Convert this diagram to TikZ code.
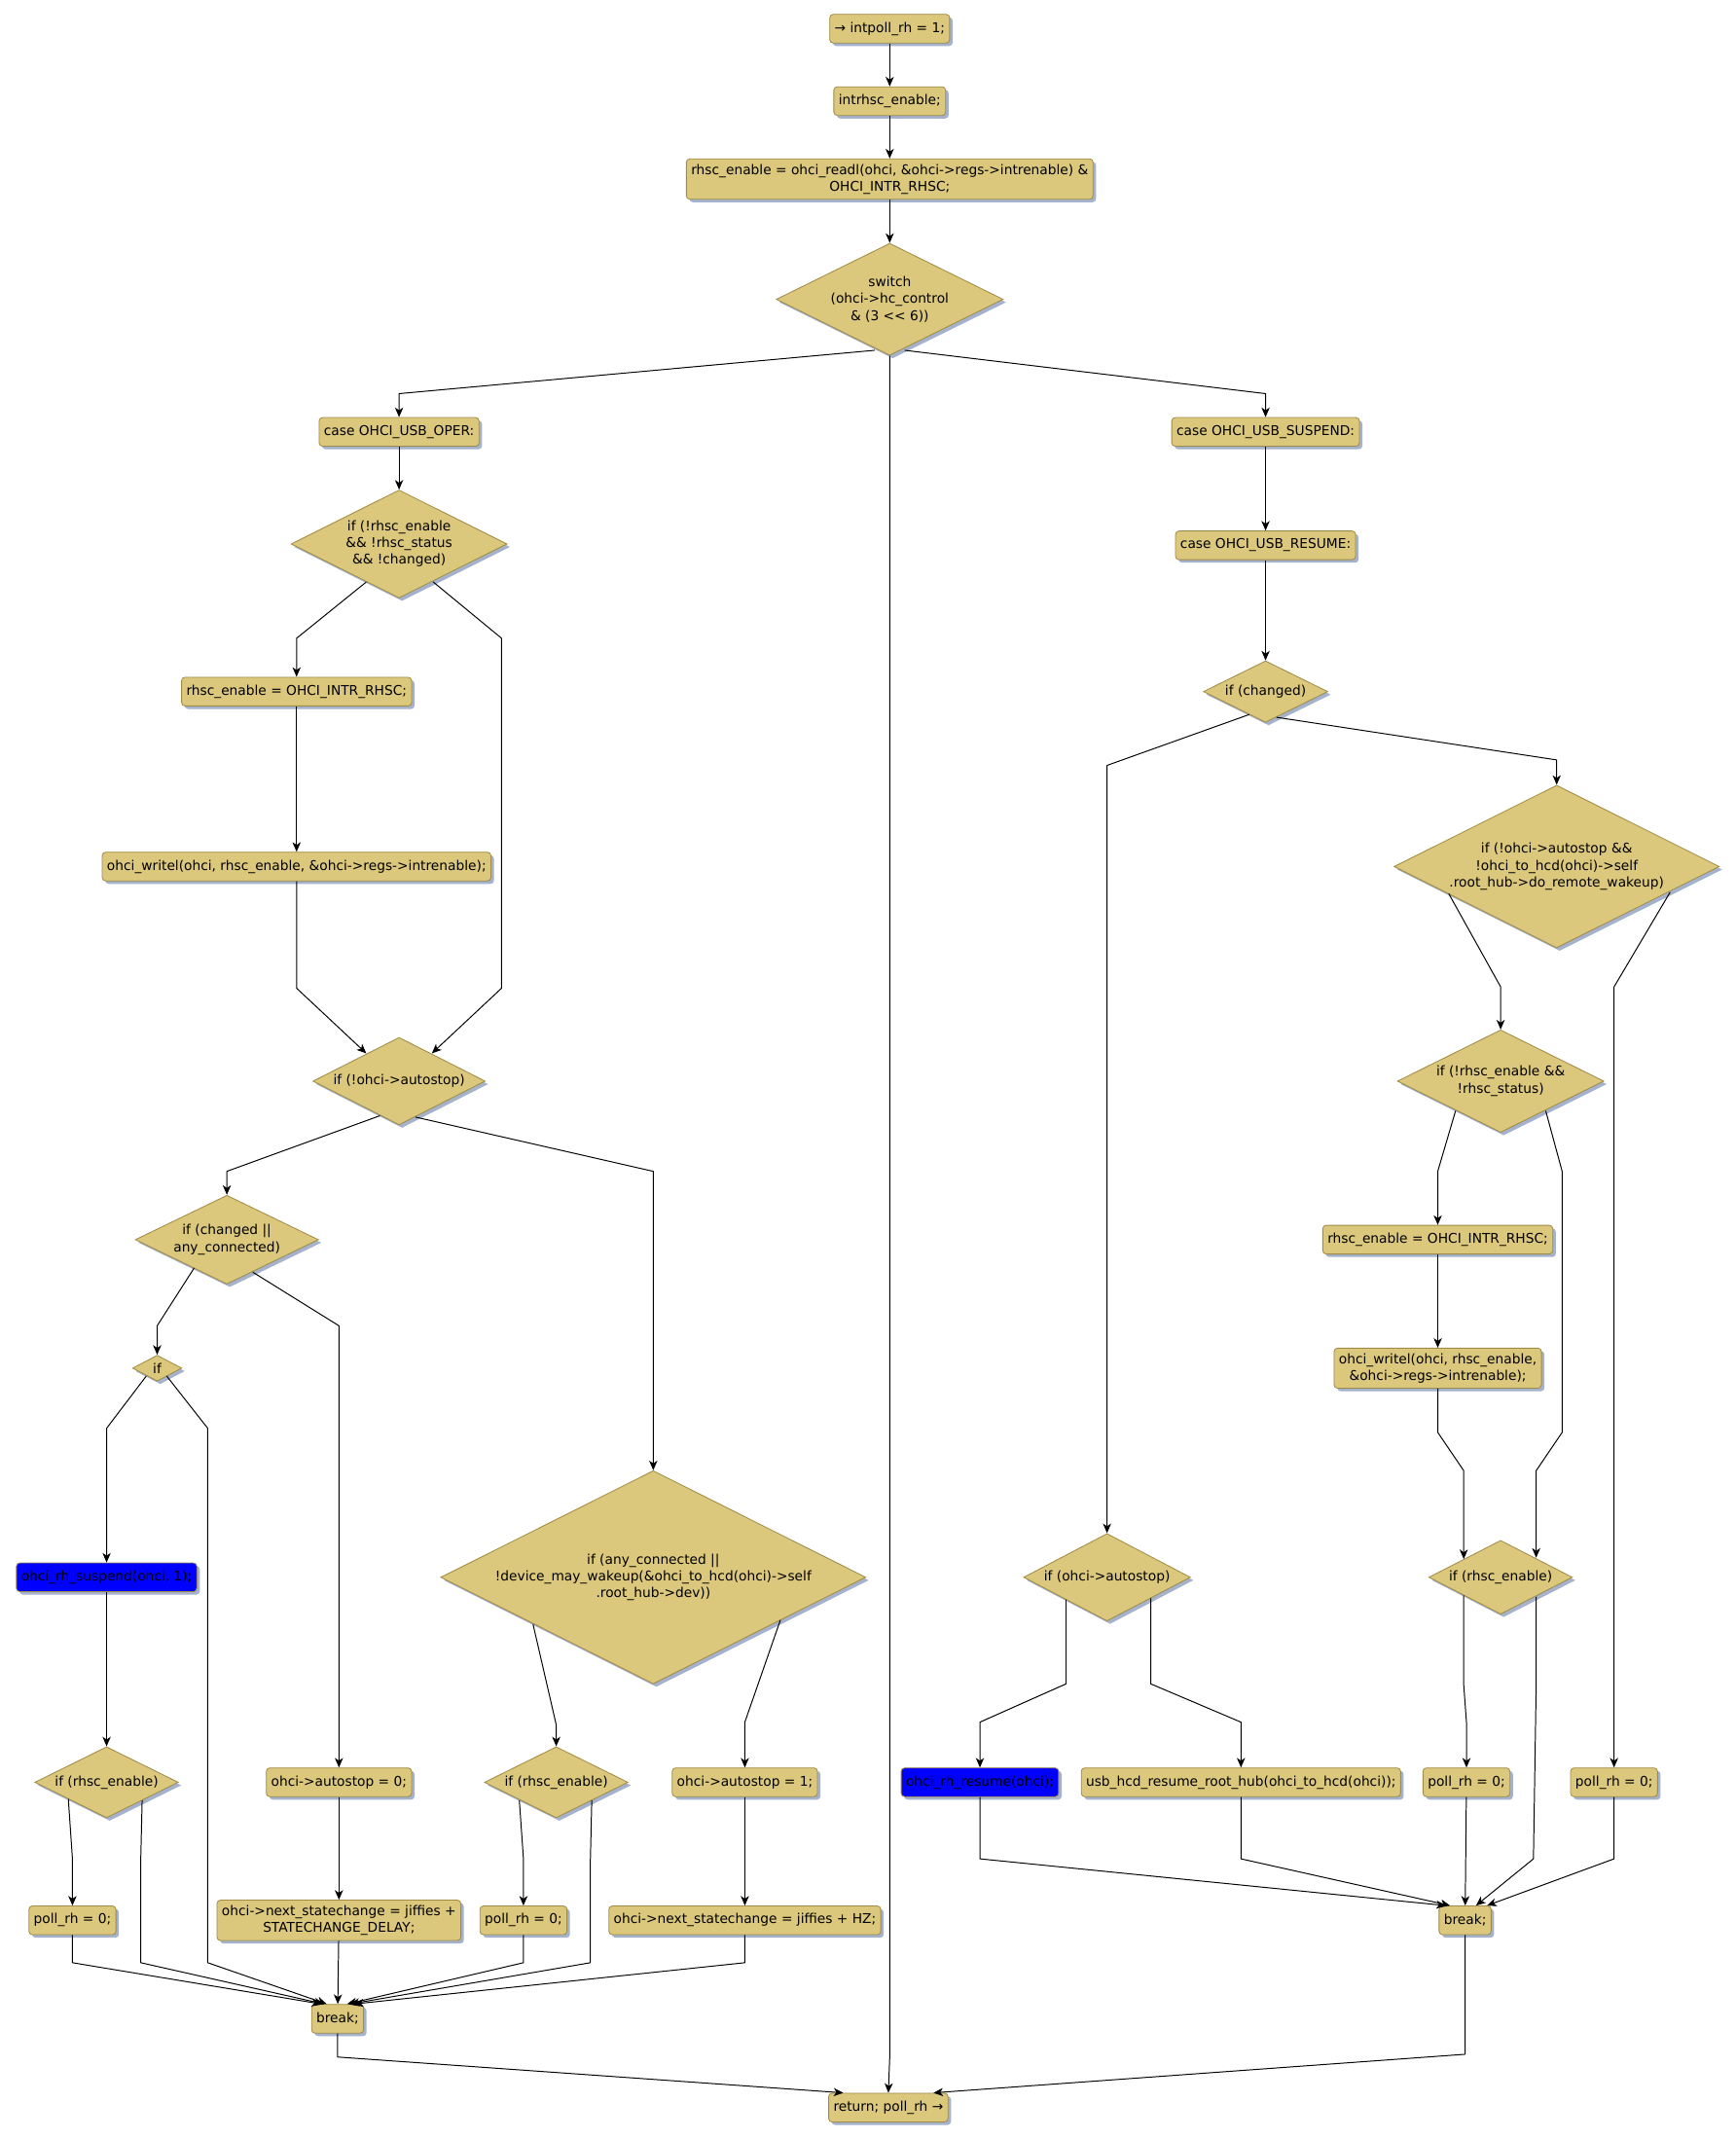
\documentclass[tikz,border=0pt]{standalone}
\usepackage{fontspec}
\setmainfont{DejaVu Sans}
\usetikzlibrary{shapes.geometric,shadows,arrows.meta,calc}
\definecolor{tanf}{RGB}{219,200,125}
\definecolor{bdr}{RGB}{160,140,70}
\definecolor{shd}{RGB}{164,178,204}
\definecolor{bluef}{RGB}{0,0,255}
\tikzset{
  shd/.style={drop shadow={shadow xshift=2.2pt, shadow yshift=-2.2pt, fill=shd, opacity=1}},
  box/.style={rectangle, draw=bdr, fill=tanf, rounded corners=2.5pt, line width=0.6pt,
    inner xsep=3.5pt, inner ysep=3.8pt, minimum height=21pt, align=center, shd},
  bluebox/.style={box, fill=bluef},
  dia/.style={diamond, aspect=2, draw=bdr, fill=tanf, line width=0.6pt, inner sep=0pt,
    align=center, shd},
  arr/.style={-{Stealth[length=7pt,width=6pt,inset=2pt]}, line width=0.7pt, line join=round},
}
\begin{document}
\begin{tikzpicture}[x=1pt,y=-1pt,font=\fontsize{9.8}{12.2}\selectfont]
\fill[white] (0,0) rectangle (1270,1565);
\useasboundingbox (0,0) rectangle (1270,1565);

% main column
\node[box] (start) at (651,21) {→ intpoll\_rh = 1;};
\node[box] (intr) at (651,74) {intrhsc\_enable;};
\node[box] (readl) at (651,131) {rhsc\_enable = ohci\_readl(ohci, \&ohci->regs->intrenable) \&\\OHCI\_INTR\_RHSC;};
\node[dia, minimum width=166, minimum height=82] (sw) at (651,219) {switch\\(ohci->hc\_control\\\& (3 <{}< 6))};
\node[box] (oper) at (292,316) {case OHCI\_USB\_OPER:};
\node[box] (susp) at (926,316) {case OHCI\_USB\_SUSPEND:};
\node[box] (resm) at (926,399) {case OHCI\_USB\_RESUME:};

% left branch
\node[dia, minimum width=158, minimum height=79] (d1) at (292,398) {if (!rhsc\_enable\\\&\& !rhsc\_status\\\&\& !changed)};
\node[box] (en1) at (217,506) {rhsc\_enable = OHCI\_INTR\_RHSC;};
\node[box] (wr1) at (217,634) {ohci\_writel(ohci, rhsc\_enable, \&ohci->regs->intrenable);};
\node[dia, minimum width=126, minimum height=64] (d2) at (292,791) {if (!ohci->autostop)};
\node[dia, minimum width=134, minimum height=65] (d3) at (166,907) {if (changed ||\\any\_connected)};
\node[dia, minimum width=36, minimum height=19] (d4) at (115,1001) {if};
\node[bluebox] (rsusp) at (78,1154) {ohci\_rh\_suspend(ohci, 1);};
\node[dia, minimum width=105, minimum height=52] (d5) at (78,1304) {if (rhsc\_enable)};
\node[box] (p1) at (53,1405) {poll\_rh = 0;};
\node[box] (as0) at (248,1304) {ohci->autostop = 0;};
\node[box] (nsc1) at (248,1405) {ohci->next\_statechange = jiffies +\\STATECHANGE\_DELAY;};
\node[dia, minimum width=311, minimum height=156] (d6) at (478,1154) {if (any\_connected ||\\!device\_may\_wakeup(\&ohci\_to\_hcd(ohci)->self\\.root\_hub->dev))};
\node[dia, minimum width=105, minimum height=52] (d7) at (407,1304) {if (rhsc\_enable)};
\node[box] (p2) at (383,1405) {poll\_rh = 0;};
\node[box] (as1) at (545,1304) {ohci->autostop = 1;};
\node[box] (nsc2) at (545,1405) {ohci->next\_statechange = jiffies + HZ;};
\node[box] (brk1) at (247,1477) {break;};
\node[box] (ret) at (650,1542) {return; poll\_rh →};

% right branch
\node[dia, minimum width=91, minimum height=45] (d8) at (926,506) {if (changed)};
\node[dia, minimum width=238, minimum height=119] (d9) at (1139,634) {if (!ohci->autostop \&\&\\!ohci\_to\_hcd(ohci)->self\\.root\_hub->do\_remote\_wakeup)};
\node[dia, minimum width=151, minimum height=75] (d10) at (1098,791) {if (!rhsc\_enable \&\&\\!rhsc\_status)};
\node[box] (en2) at (1052,907) {rhsc\_enable = OHCI\_INTR\_RHSC;};
\node[box] (wr2) at (1052,1001) {ohci\_writel(ohci, rhsc\_enable,\\\&ohci->regs->intrenable);};
\node[dia, minimum width=105, minimum height=54] (d11) at (1098,1154) {if (rhsc\_enable)};
\node[dia, minimum width=122, minimum height=64] (d12) at (810,1154) {if (ohci->autostop)};
\node[bluebox] (rres) at (717,1304) {ohci\_rh\_resume(ohci);};
\node[box] (usb) at (908,1304) {usb\_hcd\_resume\_root\_hub(ohci\_to\_hcd(ohci));};
\node[box] (p3) at (1073,1304) {poll\_rh = 0;};
\node[box] (p4) at (1181,1304) {poll\_rh = 0;};
\node[box] (brk2) at (1072,1405) {break;};

% connectors: main
\draw[arr] (start) -- (intr);
\draw[arr] (intr) -- (readl);
\draw[arr] (readl) -- (sw);
\draw[arr] ($(sw.south)+(-11,-4)$) -- (292,288) -- (oper);
\draw[arr] ($(sw.south)+(11,-4)$) -- (926,288) -- (susp);
\draw[arr] (sw.south) -- (651,1505) -- (ret.north);
\draw[arr] (oper) -- (d1);
\draw[arr] (susp) -- (resm);
\draw[arr] (resm) -- (d8);

% connectors: left
\draw[arr] ($(d1.south)+(-24,-12)$) -- (217,467) -- (en1);
\draw[arr] ($(d1.south)+(25,-12)$) -- (367,467) -- (367,723) -- ($(d2.north)+(24,12)$);
\draw[arr] (en1) -- (wr1);
\draw[arr] (wr1) -- (217,723) -- ($(d2.north)+(-24,12)$);
\draw[arr] ($(d2.south)+(-14,-7)$) -- (166,857) -- (d3);
\draw[arr] ($(d2.south)+(12,-6)$) -- (478,857) -- (d6);
\draw[arr] ($(d3.south)+(-24,-12)$) -- (115,970) -- (d4);
\draw[arr] ($(d3.south)+(19,-9)$) -- (248,970) -- (as0);
\draw[arr] ($(d4.south)+(-8,-4)$) -- (78,1045) -- (rsusp);
\draw[arr] ($(d4.south)+(7,-4)$) -- (152,1045) -- (152,1436) -- ($(brk1.north)+(-8,0)$);
\draw[arr] (rsusp) -- (d5);
\draw[arr] ($(d5.south)+(-28,-14)$) -- (53,1360) -- (p1);
\draw[arr] ($(d5.south)+(26,-13)$) -- (103,1360) -- (103,1436) -- ($(brk1.north)+(-10,0)$);
\draw[arr] (p1) -- (53,1436) -- ($(brk1.north)+(-12,0)$);
\draw[arr] (as0) -- (nsc1);
\draw[arr] (nsc1) -- (brk1);
\draw[arr] ($(d6.south)+(-88,-44)$) -- (407,1262) -- (d7);
\draw[arr] ($(d6.south)+(93,-47)$) -- (545,1260) -- (as1);
\draw[arr] ($(d7.south)+(-27,-13)$) -- (383,1360) -- (p2);
\draw[arr] ($(d7.south)+(26,-13)$) -- (432,1360) -- (432,1436) -- ($(brk1.north)+(9,0)$);
\draw[arr] (p2) -- (383,1436) -- ($(brk1.north)+(7,0)$);
\draw[arr] (as1) -- (nsc2);
\draw[arr] (nsc2) -- (545,1436) -- ($(brk1.north)+(12,0)$);
\draw[arr] (brk1) -- (247,1505) -- ($(ret.north)+(-33,0)$);
\draw[arr] (brk2) -- (1072,1503) -- ($(ret.north)+(33,0)$);

% connectors: right
\draw[arr] ($(d8.south)+(-12,-6)$) -- (810,560) -- (d12);
\draw[arr] ($(d8.south)+(8,-4)$) -- (1139,556) -- (d9);
\draw[arr] ($(d9.south)+(-79,-40)$) -- (1098,722) -- (d10);
\draw[arr] ($(d9.south)+(83,-41)$) -- (1181,722) -- (p4);
\draw[arr] ($(d10.south)+(-33,-16)$) -- (1052,857) -- (en2);
\draw[arr] ($(d10.south)+(33,-16)$) -- (1143,857) -- (1143,1048) -- (1124,1076) -- ($(d11.north)+(26,13)$);
\draw[arr] (en2) -- (wr2);
\draw[arr] (wr2) -- (1052,1048) -- (1071,1076) -- ($(d11.north)+(-27,14)$);
\draw[arr] ($(d11.south)+(-27,-14)$) -- (1071,1233) -- (1073,1260) -- (p3);
\draw[arr] ($(d11.south)+(26,-13)$) -- (1124,1233) -- (1122,1360) -- ($(brk2.north)+(8,0)$);
\draw[arr] ($(d12.south)+(-30,-16)$) -- (780,1232) -- (717,1260) -- (rres);
\draw[arr] ($(d12.south)+(32,-17)$) -- (842,1232) -- (908,1260) -- (usb);
\draw[arr] (rres) -- (717,1360) -- ($(brk2.north)+(-14,0)$);
\draw[arr] (usb) -- (908,1360) -- ($(brk2.north)+(-11,0)$);
\draw[arr] (p3) -- (brk2);
\draw[arr] (p4) -- (1181,1360) -- ($(brk2.north)+(16,0)$);
\end{tikzpicture}
\end{document}
